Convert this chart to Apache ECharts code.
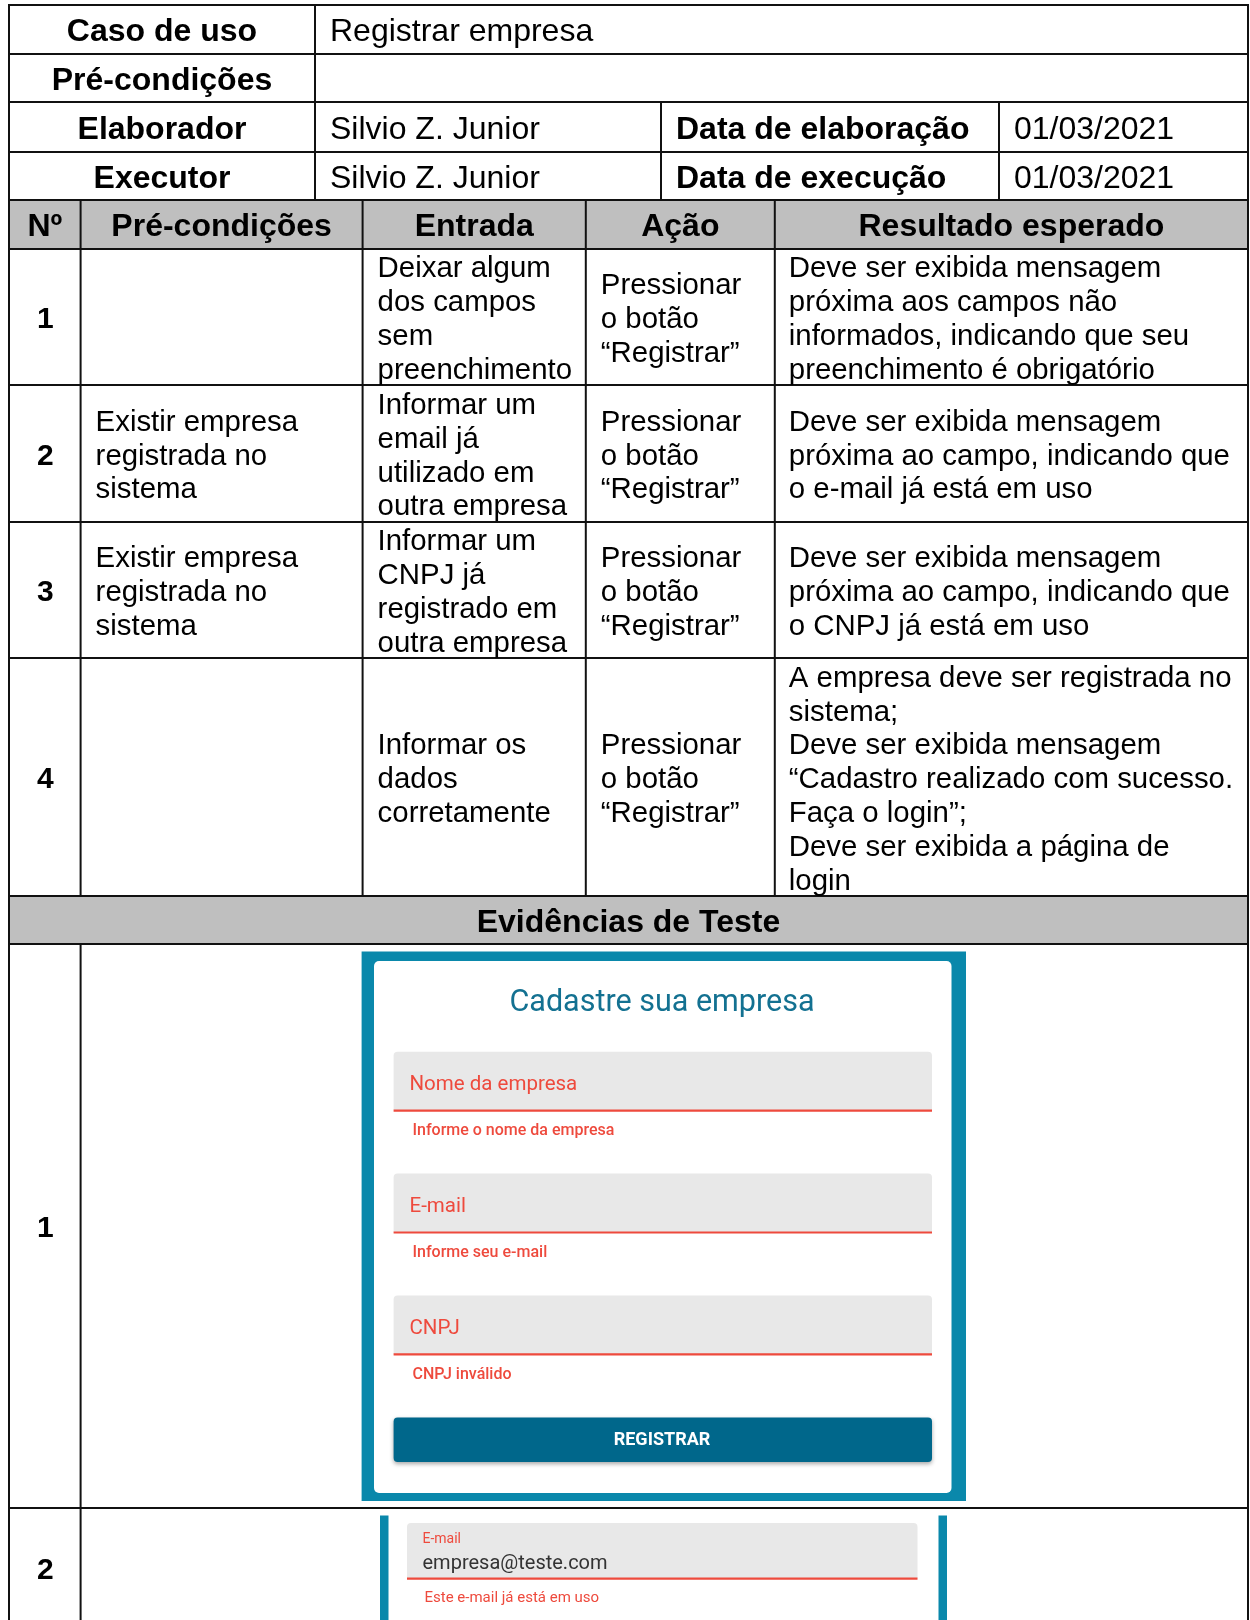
<!DOCTYPE html>
<html><head><meta charset="utf-8">
<script src="https://cdn.jsdelivr.net/npm/echarts@6/dist/echarts.min.js"></script>
<style>html,body{margin:0;padding:0;background:#fff}#c{width:1250px;height:1620px}</style>
</head><body><div id="c"></div>
<script>
// ---- content ----
const infoLabels = ['Caso de uso', 'Pré-condições', 'Elaborador', 'Executor'];
const infoValues = ['Registrar empresa', '', 'Silvio Z. Junior', 'Silvio Z. Junior'];
const dateLabels = ['Data de elaboração', 'Data de execução'];
const dateValues = ['01/03/2021', '01/03/2021'];
const columnHeaders = ['Nº', 'Pré-condições', 'Entrada', 'Ação', 'Resultado esperado'];
const stepNumbers = ['1', '2', '3', '4'];
const stepPreconditions = ['', 'Existir empresa\nregistrada no\nsistema', 'Existir empresa\nregistrada no\nsistema', ''];
const stepInputs = ['Deixar algum\ndos campos\nsem\npreenchimento', 'Informar um\nemail já\nutilizado em\noutra empresa', 'Informar um\nCNPJ já\nregistrado em\noutra empresa', 'Informar os\ndados\ncorretamente'];
const stepActions = ['Pressionar\no botão\n“Registrar”', 'Pressionar\no botão\n“Registrar”', 'Pressionar\no botão\n“Registrar”', 'Pressionar\no botão\n“Registrar”'];
const stepResults = [
  'Deve ser exibida mensagem\npróxima aos campos não\ninformados, indicando que seu\npreenchimento é obrigatório',
  'Deve ser exibida mensagem\npróxima ao campo, indicando que\no e-mail já está em uso',
  'Deve ser exibida mensagem\npróxima ao campo, indicando que\no CNPJ já está em uso',
  'A empresa deve ser registrada no\nsistema;\nDeve ser exibida mensagem\n“Cadastro realizado com sucesso.\nFaça o login”;\nDeve ser exibida a página de\nlogin'
];
const evidenceTitle = 'Evidências de Teste';
const evidenceNumbers = ['1', '2'];
const formTitle = 'Cadastre sua empresa';
const formFields = ['Nome da empresa', 'E-mail', 'CNPJ'];
const formErrors = ['Informe o nome da empresa', 'Informe seu e-mail', 'CNPJ inválido'];
const formButton = 'REGISTRAR';
const emailLabel = 'E-mail';
const emailValue = 'empresa@teste.com';
const emailError = 'Este e-mail já está em uso';

// ---- layout ----
const L = 9, R = 1248, BOTTOM = 1625;
const topRowsY = [5, 54, 102, 152, 200];
const topColX = [315, 661, 999];
const headY = [200, 249];
const stepRowsY = [249, 385, 522, 658, 896];
const stepColX = [L, 80.6, 362.6, 585.8, 774.8, R];
const evHeadY = [896, 944];
const evRowsY = [944, 1508];
const LH = 33.8;
const DY = 3;
const F = '"Liberation Sans", Arial, sans-serif';
const RB = 'Roboto, sans-serif';
const LINE = '#111';

const els = [];
function rect(x, y, w, h, fill, extra) {
  els.push({type: 'rect', shape: {x, y, width: w, height: h, r: (extra && extra.r) || 0}, style: Object.assign({fill}, (extra && extra.style) || {}), silent: true});
}
function line(x1, y1, x2, y2, w, c) {
  els.push({type: 'line', shape: {x1, y1, x2, y2}, style: {stroke: c || LINE, lineWidth: w || 2}, silent: true});
}
function text(t, x, y, font, fill, align) {
  els.push({type: 'text', style: {text: t, x, y, font, fill: fill || '#000', textAlign: align || 'left', textVerticalAlign: 'middle'}, silent: true});
}
function block(t, x, yc, font, align) {
  if (!t) return;
  const lines = t.split('\n');
  const n = lines.length;
  lines.forEach((s, i) => text(s, x, yc + DY + (i - (n - 1) / 2) * LH, font, '#000', align));
}

// fills
rect(L, headY[0], R - L, headY[1] - headY[0], '#bfbfbf');
rect(L, evHeadY[0], R - L, evHeadY[1] - evHeadY[0], '#bfbfbf');

// horizontal lines
[...topRowsY, headY[1], ...stepRowsY.slice(1), evHeadY[1], evRowsY[1]].forEach(y => line(L, y, R, y, 2));
// vertical lines
line(L, topRowsY[0] - 1, L, BOTTOM, 2);
line(R, topRowsY[0] - 1, R, BOTTOM, 2);
line(topColX[0], topRowsY[0], topColX[0], topRowsY[4], 2);
line(topColX[1], topRowsY[2], topColX[1], topRowsY[4], 2);
line(topColX[2], topRowsY[2], topColX[2], topRowsY[4], 2);
for (let i = 1; i < stepColX.length - 1; i++) line(stepColX[i], headY[0], stepColX[i], stepRowsY[4], 2);
line(stepColX[1], evHeadY[1], stepColX[1], BOTTOM, 2);

// top info
const hb = 'bold 32px ' + F, hn = '32px ' + F;
const fb = 'bold 30px ' + F, fn = '29.4px ' + F;
infoLabels.forEach((s, i) => text(s, (L + topColX[0]) / 2, (topRowsY[i] + topRowsY[i + 1]) / 2 + DY, hb, '#000', 'center'));
infoValues.forEach((s, i) => { if (s) text(s, topColX[0] + 15, (topRowsY[i] + topRowsY[i + 1]) / 2 + DY, hn); });
dateLabels.forEach((s, i) => text(s, topColX[1] + 15, (topRowsY[i + 2] + topRowsY[i + 3]) / 2 + DY, hb));
dateValues.forEach((s, i) => text(s, topColX[2] + 15, (topRowsY[i + 2] + topRowsY[i + 3]) / 2 + DY, hn));

// header
columnHeaders.forEach((s, i) => text(s, (stepColX[i] + stepColX[i + 1]) / 2, (headY[0] + headY[1]) / 2 + DY, hb, '#000', 'center'));

// steps
stepNumbers.forEach((s, i) => {
  const yc = (stepRowsY[i] + stepRowsY[i + 1]) / 2;
  text(s, (stepColX[0] + stepColX[1]) / 2 + 0.5, yc + DY, fb, '#000', 'center');
  block(stepPreconditions[i], stepColX[1] + 15, yc, fn);
  block(stepInputs[i], stepColX[2] + 15, yc, fn);
  block(stepActions[i], stepColX[3] + 15, yc, fn);
  block(stepResults[i], stepColX[4] + 14, yc, fn);
});

// evidence header
text(evidenceTitle, (L + R) / 2, (evHeadY[0] + evHeadY[1]) / 2 + DY, hb, '#000', 'center');
text(evidenceNumbers[0], (stepColX[0] + stepColX[1]) / 2 + 0.5, (evRowsY[0] + evRowsY[1]) / 2 + DY, fb, '#000', 'center');
text(evidenceNumbers[1], (stepColX[0] + stepColX[1]) / 2 + 0.5, 1568 + DY, fb, '#000', 'center');

// screenshot 1
const TEAL = '#0a88ab', RED = '#ee4a3d';
rect(361.6, 951.5, 604.4, 549.5, TEAL);
rect(374, 961, 577.5, 532, '#ffffff', {r: 5});
text(formTitle, 662, 1003, '30.5px ' + RB, '#137191', 'center');
const fieldTop = [1051.7, 1173.6, 1295.5];
formFields.forEach((s, i) => {
  const y0 = fieldTop[i];
  rect(393.6, y0, 538.4, 58.9, '#e8e8e8', {r: [4, 4, 0, 0]});
  line(393.6, y0 + 58.9, 932, y0 + 58.9, 2.2, RED);
  text(s, 409.5, y0 + 33.5, '20.5px ' + RB, RED);
  text(formErrors[i], 412.5, y0 + 79, '500 16px ' + RB, RED);
});
rect(393.6, 1417.5, 538.4, 44.5, '#00678b', {r: 4, style: {shadowBlur: 4, shadowOffsetY: 2, shadowColor: 'rgba(0,0,0,0.35)'}});
text(formButton, 662, 1440.5, 'bold 18px ' + RB, '#ffffff', 'center');

// screenshot 2
rect(380, 1515.6, 8.5, BOTTOM - 1515.6, TEAL);
rect(938.5, 1515.6, 8.5, BOTTOM - 1515.6, TEAL);
rect(407, 1523, 510.5, 55.6, '#e8e8e8', {r: [4, 4, 0, 0]});
line(407, 1578.6, 917.5, 1578.6, 2.2, RED);
text(emailLabel, 422.5, 1539, '14px ' + RB, RED);
text(emailValue, 422.5, 1564, '20px ' + RB, '#333333');
text(emailError, 424.5, 1598, '15px ' + RB, RED);

const chart = echarts.init(document.getElementById('c'), null, {renderer: 'canvas'});
chart.setOption({animation: false, backgroundColor: '#ffffff', graphic: {elements: els}});
</script></body></html>
